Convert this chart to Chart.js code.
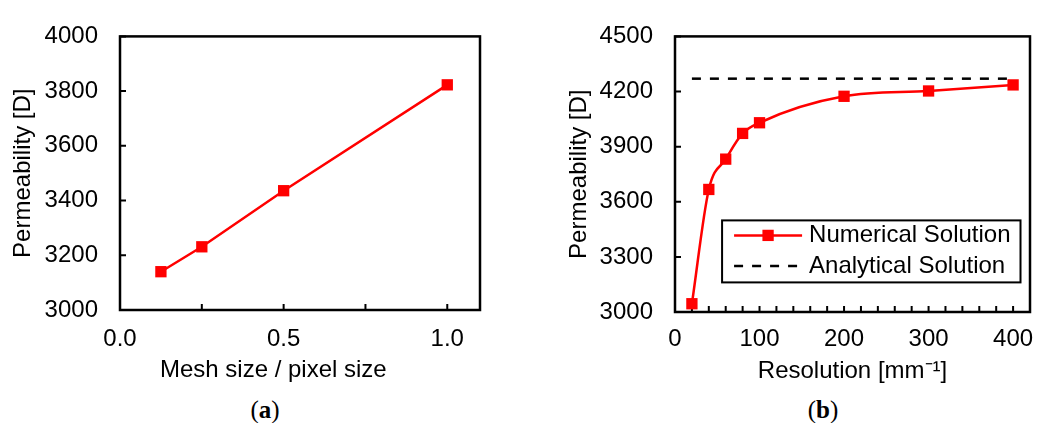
<!DOCTYPE html>
<html>
<head>
<meta charset="utf-8">
<title>Permeability convergence</title>
<script src="https://cdn.jsdelivr.net/npm/chart.js@4.4.1/dist/chart.umd.min.js"></script>
<style>
    html, body { margin: 0; padding: 0; background: #fff; }
    body { width: 1043px; height: 423px; position: relative; overflow: hidden; }
    .panel { position: absolute; top: 0; height: 395px; }
    #panel-a { left: 0; width: 520px; }
    #panel-b { left: 555px; width: 488px; }
    .caption {
        position: absolute; top: 396px;
        font-family: 'Liberation Serif', 'Times New Roman', serif;
        font-size: 25px; line-height: 28px; color: #000;
        transform: translateX(-50%);
    }
</style>
</head>
<body>
<div class="panel" id="panel-a"><canvas id="chart-a"></canvas></div>
<div class="panel" id="panel-b"><canvas id="chart-b"></canvas></div>
<div class="caption" style="left:265px">(<b>a</b>)</div>
<div class="caption" style="left:823px">(<b>b</b>)</div>
<script>
"use strict";

// Panel (a): permeability against mesh size / pixel size
var meshSize = [0.125, 0.25, 0.5, 1.0];
var permeabilityMesh = [3140, 3231, 3436, 3823];
var meshTickLabels = ['0.0', '0.5', '1.0'];

// Panel (b): permeability against resolution
var resolution = [20, 40, 60, 80, 100, 200, 300, 400];
var permeabilityNumerical = [3045, 3667, 3832, 3972, 4030, 4174, 4203, 4236];
var analyticalRange = [20, 400];
var permeabilityAnalytical = [4270, 4270];
var resolutionTickLabels = ['0', '100', '200', '300', '400'];

var FONT = "'Liberation Sans', Arial, sans-serif";
var RED = '#ff0000';

Chart.defaults.font.family = FONT;
Chart.defaults.font.size = 24;
Chart.defaults.color = '#000';

// Helper to zip two arrays into {x, y} points:
var toPoints = function toPoints(xs, ys) {
    return xs.map(function (x, i) {
        return { x: x, y: ys[i] };
    });
};

// Black frame round the plot area with short inward tick marks:
var framePlugin = {
    id: 'frame',
    beforeDatasetsDraw: function (chart) {
        var ctx = chart.ctx;
        var area = chart.chartArea;
        var xScale = chart.scales.x;
        var yScale = chart.scales.y;
        var len = 6;

        ctx.save();
        ctx.strokeStyle = '#000';
        ctx.lineWidth = 2.5;
        ctx.strokeRect(area.left, area.top, area.right - area.left, area.bottom - area.top);

        ctx.lineWidth = 2;
        ctx.beginPath();
        xScale.ticks.forEach(function (t) {
            var px = xScale.getPixelForValue(t.value);
            ctx.moveTo(px, area.bottom);
            ctx.lineTo(px, area.bottom - len);
        });
        yScale.ticks.forEach(function (t) {
            var py = yScale.getPixelForValue(t.value);
            ctx.moveTo(area.left, py);
            ctx.lineTo(area.left + len, py);
        });
        ctx.stroke();
        ctx.restore();
    }
};

// Boxed legend inside the plot area (panel b only):
var boxLegendPlugin = {
    id: 'boxLegend',
    afterDraw: function (chart, args, opts) {
        if (!opts.display) return;
        var ctx = chart.ctx;
        var area = chart.chartArea;
        var sets = chart.data.datasets;

        ctx.save();
        ctx.font = '24px ' + FONT;
        var textW = Math.max.apply(null, sets.map(function (d) {
            return ctx.measureText(d.label).width;
        }));
        var w = 87 + textW + 10;
        var h = 62;
        var x = area.right - opts.right - w;
        var y = area.top + opts.top;

        ctx.fillStyle = '#fff';
        ctx.fillRect(x, y, w, h);
        ctx.strokeStyle = '#000';
        ctx.lineWidth = 2;
        ctx.strokeRect(x, y, w, h);

        sets.forEach(function (d, i) {
            var cy = y + 15 + i * 30.6;
            ctx.strokeStyle = d.borderColor;
            ctx.lineWidth = d.borderWidth;
            ctx.setLineDash(d.borderDash || []);
            ctx.beginPath();
            ctx.moveTo(x + 12, cy);
            ctx.lineTo(x + 80, cy);
            ctx.stroke();
            ctx.setLineDash([]);

            if (d.pointRadius > 0) {
                ctx.fillStyle = d.pointBackgroundColor;
                Chart.helpers.drawPoint(ctx, {
                    pointStyle: d.pointStyle,
                    radius: d.pointRadius,
                    rotation: 0,
                    borderWidth: 0
                }, x + 46, cy);
            }

            ctx.fillStyle = '#000';
            ctx.textAlign = 'left';
            ctx.textBaseline = 'middle';
            ctx.fillText(d.label, x + 87, cy);
        });
        ctx.restore();
    }
};

var plainNumber = function plainNumber(v) {
    return String(v);
};

// Chart (a):
new Chart(document.getElementById('chart-a'), {
    type: 'scatter',
    data: {
        datasets: [{
            label: 'Permeability',
            data: toPoints(meshSize, permeabilityMesh),
            showLine: true,
            borderColor: RED,
            borderWidth: 2.5,
            pointStyle: 'rect',
            pointRadius: 8,
            pointBackgroundColor: RED,
            pointBorderWidth: 0,
            tension: 0,
            clip: false
        }]
    },
    options: {
        responsive: true,
        maintainAspectRatio: false,
        animation: false,
        layout: { padding: { top: 24, right: 40, left: 0, bottom: 0 } },
        plugins: {
            legend: { display: false },
            tooltip: { enabled: false },
            boxLegend: { display: false }
        },
        scales: {
            x: {
                type: 'linear',
                min: 0,
                max: 1.1,
                afterFit: function (s) { s.height = 85; },
                grid: { display: false, drawTicks: false },
                border: { display: false },
                ticks: {
                    stepSize: 0.25,
                    includeBounds: false,
                    autoSkip: false,
                    maxRotation: 0,
                    padding: 15,
                    callback: function (v) {
                        var s = v.toFixed(1);
                        return meshTickLabels.indexOf(s) >= 0 ? s : '';
                    }
                },
                title: {
                    display: true,
                    text: 'Mesh size / pixel size' + '\u00a0'.repeat(8),
                    padding: { top: 0, bottom: 10.5 }
                }
            },
            y: {
                min: 3000,
                max: 4000,
                afterFit: function (s) { s.width = 120; },
                grid: { display: false, drawTicks: false },
                border: { display: false },
                ticks: { stepSize: 200, padding: 22, callback: plainNumber },
                title: {
                    display: true,
                    text: 'Permeability [D]',
                    padding: { top: 8.5, bottom: 0 }
                }
            }
        }
    },
    plugins: [framePlugin, boxLegendPlugin]
});

// Chart (b):
new Chart(document.getElementById('chart-b'), {
    type: 'scatter',
    data: {
        datasets: [{
            label: 'Numerical Solution',
            data: toPoints(resolution, permeabilityNumerical),
            showLine: true,
            borderColor: RED,
            borderWidth: 2.5,
            pointStyle: 'rect',
            pointRadius: 8,
            pointBackgroundColor: RED,
            pointBorderWidth: 0,
            cubicInterpolationMode: 'monotone',
            clip: false
        }, {
            label: 'Analytical Solution',
            data: toPoints(analyticalRange, permeabilityAnalytical),
            showLine: true,
            borderColor: '#000',
            borderWidth: 2.5,
            borderDash: [9, 9],
            pointRadius: 0,
            clip: false
        }]
    },
    options: {
        responsive: true,
        maintainAspectRatio: false,
        animation: false,
        layout: { padding: { top: 24, right: 5.75, left: 0, bottom: 0 } },
        plugins: {
            legend: { display: false },
            tooltip: { enabled: false },
            boxLegend: { display: true, right: 9.5, top: 184 }
        },
        scales: {
            x: {
                type: 'linear',
                min: 0,
                max: 420,
                afterFit: function (s) { s.height = 83; },
                grid: { display: false, drawTicks: false },
                border: { display: false },
                ticks: {
                    stepSize: 20,
                    includeBounds: false,
                    autoSkip: false,
                    maxRotation: 0,
                    padding: 13,
                    callback: function (v) {
                        var s = String(v);
                        return resolutionTickLabels.indexOf(s) >= 0 ? s : '';
                    }
                },
                title: {
                    display: true,
                    text: 'Resolution [mm\u207b\u00b9]',
                    padding: { top: 0, bottom: 9 }
                }
            },
            y: {
                min: 3000,
                max: 4500,
                afterFit: function (s) { s.width = 120; },
                grid: { display: false, drawTicks: false },
                border: { display: false },
                ticks: { stepSize: 300, padding: 22, callback: plainNumber },
                title: {
                    display: true,
                    text: 'Permeability [D]',
                    padding: { top: 9.5, bottom: 0 }
                }
            }
        }
    },
    plugins: [framePlugin, boxLegendPlugin]
});
</script>
</body>
</html>
